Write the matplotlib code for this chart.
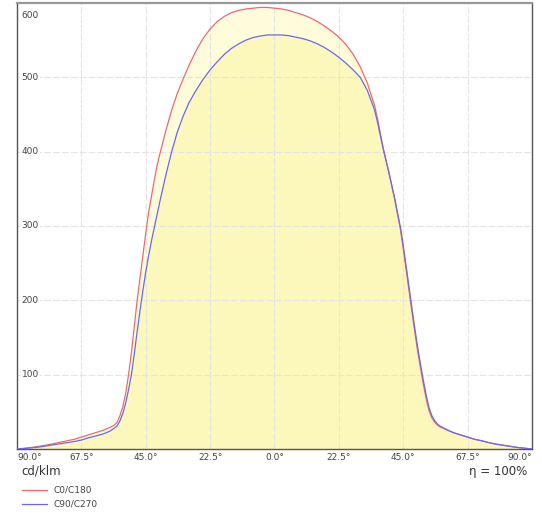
import matplotlib
matplotlib.use("Agg")

import matplotlib.pyplot as plt
import matplotlib.transforms as mtransforms

# gamma angles (deg), negative = left half of the diagram
angles_c0 = [-90, -87.5, -85, -82.5, -80, -77.5, -75, -72.5, -70, -67.5, -65, -62.5,
             -60, -57.5, -56, -55, -54, -53, -52, -51, -50, -49, -48, -47, -46, -45,
             -44, -43, -42, -41, -40, -38, -36, -34, -32, -30, -27.5, -25, -22.5,
             -20, -17.5, -15, -12.5, -10, -7.5, -5, -2.5, 0, 2.5, 5, 7.5, 10, 12.5,
             15, 17.5, 20, 22.5, 25, 27.5, 30, 32.5, 35, 36, 37, 38, 39, 40, 41, 42,
             43, 44, 45, 46, 47, 48, 49, 50, 51, 52, 53, 54, 55, 56, 57, 58, 60,
             62.5, 65, 67.5, 70, 72.5, 75, 77.5, 80, 82.5, 85, 87.5, 90]
cd_c0 = [0, 1, 2, 3.5, 5, 7, 9, 11, 13, 16, 19, 22,
         25, 29, 32, 36, 45, 57, 75, 100, 130, 165, 200, 230, 260, 290,
         318, 340, 362, 382, 398, 428, 455, 478, 497, 515, 535, 552, 565,
         575, 582, 587, 590, 592, 593, 594, 594, 593, 592, 590, 587, 584, 580,
         575, 569, 562, 554, 544, 531, 514, 492, 462, 445, 425, 405, 388, 372, 354, 336,
         316, 296, 270, 242, 214, 186, 159, 133, 110, 88, 68, 52, 42, 36, 32, 29.5, 26,
         22, 19, 16, 13, 11, 8.5, 6.5, 5, 3.5, 2, 1, 0]

angles_c90 = [-90, -87.5, -85, -82.5, -80, -77.5, -75, -72.5, -70, -67.5, -65, -62.5,
              -60, -57.5, -56, -55, -54, -53, -52, -51, -50, -49, -48, -47, -46, -45,
              -44, -43, -42, -41, -40, -38, -36, -34, -32, -30, -27.5, -25, -22.5,
              -20, -17.5, -15, -12.5, -10, -7.5, -5, -2.5, 0, 2.5, 5, 7.5, 10, 12.5,
              15, 17.5, 20, 22.5, 25, 27.5, 30, 32.5, 35, 36, 37, 38, 39, 40, 41, 42,
              43, 44, 45, 46, 47, 48, 49, 50, 51, 52, 53, 54, 55, 56, 57, 58, 60,
              62.5, 65, 67.5, 70, 72.5, 75, 77.5, 80, 82.5, 85, 87.5, 90]
cd_c90 = [0, 0.5, 1.5, 2.5, 4, 5.5, 7, 8.5, 10, 12, 15, 17.5,
          20, 24, 28, 31, 38, 48, 62, 80, 100, 128, 158, 186, 213, 238,
          260, 280, 298, 316, 334, 368, 399, 426, 447, 465, 482, 497, 510,
          521, 531, 539, 545, 550, 553.5, 555.5, 557, 557, 557, 556, 554, 552, 549,
          545, 540, 534, 527, 519, 510, 500, 482, 456, 440, 422, 404, 388, 372, 355, 338,
          318, 299, 274, 247, 219, 191, 164, 138, 115, 93, 73, 56, 45, 38, 33.5, 30.5, 26.5,
          22, 19, 16, 13, 11, 8.5, 6.5, 5, 3.5, 2, 1, 0]

x_ticks = [-90, -67.5, -45, -22.5, 0, 22.5, 45, 67.5, 90]
x_tick_labels = ["90.0°", "67.5°", "45.0°", "22.5°", "0.0°", "22.5°", "45.0°", "67.5°", "90.0°"]
y_ticks = [100, 200, 300, 400, 500, 600]

series_labels = ["C0/C180", "C90/C270"]
unit_label = "cd/klm"
efficiency_label = "η = 100%"

red = "#f06a6a"
blue = "#6a6ae6"

fig = plt.figure(figsize=(5.42, 5.13), dpi=100)
ax = fig.add_axes([0.0314, 0.1248, 0.95, 0.8694])

ax.fill_between(angles_c0, cd_c0, color="#fffcdc", lw=0, zorder=1)
ax.fill_between(angles_c90, cd_c90, color="#fcf8bc", lw=0, zorder=1.1)
ax.plot(angles_c0, cd_c0, color=red, lw=0.9, zorder=3)
ax.plot(angles_c90, cd_c90, color=blue, lw=0.9, zorder=3)

ax.set_xlim(-90, 90)
ax.set_ylim(0, 600)
ax.set_xticks(x_ticks)
ax.set_xticklabels(x_tick_labels, fontsize=6.5, color="#444444")
labels = ax.get_xticklabels()
labels[0].set_ha("left")
labels[-1].set_ha("right")
ax.set_yticks(y_ticks)
ax.set_yticklabels([])
ax.tick_params(length=0, pad=3)
ax.grid(True, color="#e4e4e4", lw=0.8, linestyle=(0, (6, 2)), zorder=1.5)

# y labels sit inside the plot area; the top one is pushed down to stay inside
trans = mtransforms.blended_transform_factory(ax.transAxes, ax.transData)
for v in y_ticks:
    va = "top" if v == y_ticks[-1] else "center"
    yy = v - 11 if v == y_ticks[-1] else v
    ax.text(0.009, yy, str(v), transform=trans, fontsize=6.5, color="#444444",
            ha="left", va=va, zorder=4,
            bbox=dict(facecolor="white", edgecolor="none", pad=1.0))

for side in ["left", "bottom", "right"]:
    ax.spines[side].set_color("#555555")
    ax.spines[side].set_linewidth(1.0)
ax.spines["top"].set_color("#999999")
ax.spines["top"].set_linewidth(1.6)

fig.text(21 / 542, 1 - 471 / 513, unit_label, fontsize=8.5, color="#333333",
         ha="left", va="center")
fig.text(527 / 542, 1 - 471 / 513, efficiency_label, fontsize=8.5, color="#333333",
         ha="right", va="center")

for i, (lab, col) in enumerate(zip(series_labels, [red, blue])):
    yy = 1 - (490 + 14 * i) / 513
    fig.add_artist(plt.Line2D([22 / 542, 47 / 542], [yy, yy], color=col, lw=0.9,
                              transform=fig.transFigure))
    fig.text(53 / 542, yy, lab, fontsize=6.5, color="#444444", ha="left", va="center")

fig.savefig("out.png", dpi=100)
plt.close(fig)
